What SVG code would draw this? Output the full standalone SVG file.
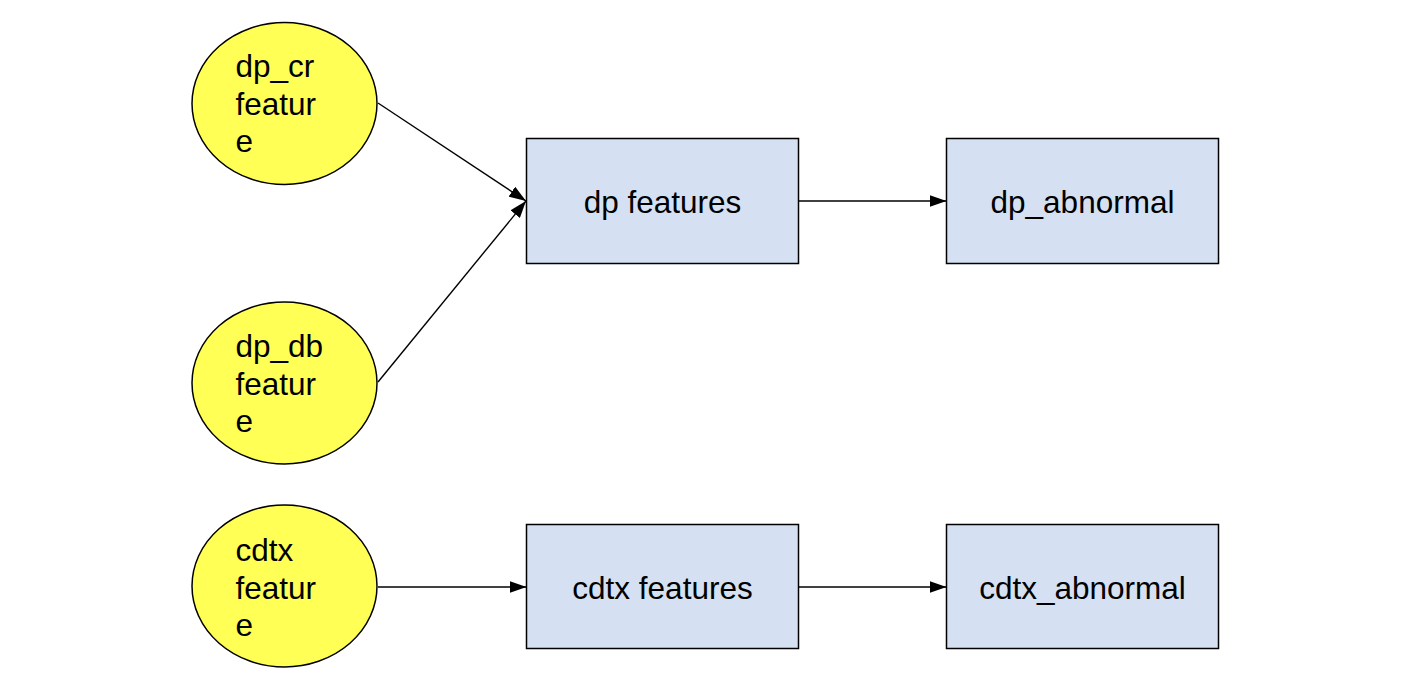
<svg xmlns="http://www.w3.org/2000/svg" width="1422" height="690" viewBox="0 0 1422 690">
<defs>
<style>
.ell{fill:#ffff55;stroke:#000;stroke-width:1.5}
.box{fill:#d5e1f2;stroke:#000;stroke-width:1.5}
.lbl{font-family:"Liberation Sans",Arial,sans-serif;font-size:31.5px;fill:#000}
.c{text-anchor:middle}
.edge{stroke:#000;stroke-width:1.4;fill:none;marker-end:url(#arr)}
</style>
<marker id="arr" markerUnits="userSpaceOnUse" markerWidth="17" markerHeight="12" refX="17" refY="6" orient="auto">
<path d="M0,0 L17,6 L0,12 z" fill="#000"/>
</marker>
</defs>
<rect width="1422" height="690" fill="#fff"/>
<g id="connectors">
<line class="edge" x1="378" y1="103" x2="526" y2="201"/>
<line class="edge" x1="378" y1="382" x2="526" y2="201"/>
<line class="edge" x1="798.5" y1="201" x2="946.5" y2="201"/>
<line class="edge" x1="378" y1="587" x2="526.5" y2="587"/>
<line class="edge" x1="798.5" y1="587" x2="946.5" y2="587"/>
</g>
<g id="dp_cr">
<ellipse class="ell" cx="284.5" cy="103.5" rx="92.5" ry="81"/>
<text class="lbl" x="235.5" y="77">dp_cr</text>
<text class="lbl" x="235.5" y="114.5">featur</text>
<text class="lbl" x="235.5" y="152">e</text>
</g>
<g id="dp_db">
<ellipse class="ell" cx="284.5" cy="383" rx="92.5" ry="81"/>
<text class="lbl" x="235.5" y="357">dp_db</text>
<text class="lbl" x="235.5" y="394.5">featur</text>
<text class="lbl" x="235.5" y="432">e</text>
</g>
<g id="cdtx">
<ellipse class="ell" cx="284.5" cy="586" rx="92.5" ry="81"/>
<text class="lbl" x="235.5" y="561">cdtx</text>
<text class="lbl" x="235.5" y="598.5">featur</text>
<text class="lbl" x="235.5" y="636">e</text>
</g>
<g id="dp_features">
<rect class="box" x="526.5" y="138.5" width="272" height="125"/>
<text class="lbl c" x="662.5" y="213">dp features</text>
</g>
<g id="dp_abnormal">
<rect class="box" x="946.5" y="138.5" width="272" height="125"/>
<text class="lbl c" x="1082.5" y="213">dp_abnormal</text>
</g>
<g id="cdtx_features">
<rect class="box" x="526.5" y="524.5" width="272" height="124"/>
<text class="lbl c" x="662.5" y="599">cdtx features</text>
</g>
<g id="cdtx_abnormal">
<rect class="box" x="946.5" y="524.5" width="272" height="124"/>
<text class="lbl c" x="1082.5" y="599">cdtx_abnormal</text>
</g>
</svg>
